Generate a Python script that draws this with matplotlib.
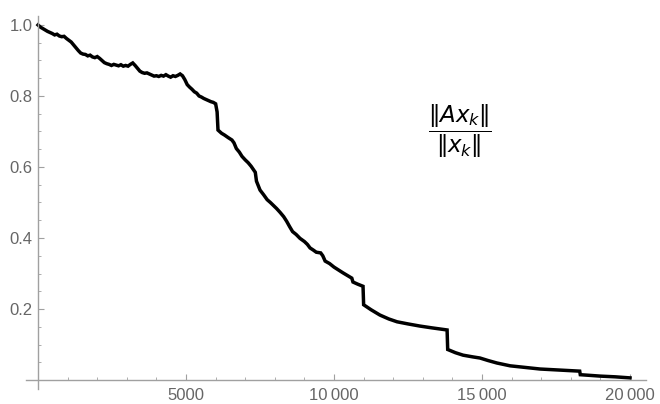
import matplotlib
matplotlib.use("Agg")
import matplotlib.pyplot as plt
from matplotlib.ticker import FixedLocator, MultipleLocator

# Data (hand-read, including visible jitter)
iters = [0, 80, 160, 240, 320, 400, 480, 560, 640, 720, 800, 880, 960, 1040, 1120,
         1200, 1280, 1360, 1440, 1520, 1600, 1680, 1760, 1840, 1920, 2000, 2080, 2160,
         2240, 2320, 2400, 2480, 2560, 2640, 2720, 2800, 2880, 2960, 3040, 3120, 3200,
         3280, 3360, 3440, 3520, 3600, 3680, 3760, 3840, 3920, 4000, 4080, 4160, 4240,
         4320, 4400, 4480, 4560, 4640, 4720, 4800, 4880, 4960, 5040, 5120, 5200, 5280,
         5360, 5440, 5520, 5600, 5680, 5760, 5840, 5920, 6000, 6050, 6080, 6200, 6300,
         6420, 6550, 6620, 6700, 6800, 6890, 7000, 7100, 7200, 7300, 7340, 7380, 7500,
         7620, 7740, 7850, 7950, 8060, 8180, 8300, 8400, 8500, 8600, 8720, 8850, 9000,
         9100, 9190, 9300, 9400, 9550, 9620, 9700, 9850, 10000, 10150, 10300, 10420,
         10540, 10600, 10640, 10800, 10980, 11000, 11250, 11550, 11850, 12130, 12500,
         12900, 13300, 13820, 13840, 14100, 14360, 14700, 14930, 15200, 15500, 15950,
         16400, 16960, 17600, 18300, 18320, 19000, 19500, 20000]
ratio = [1.000, 0.994, 0.990, 0.986, 0.982, 0.979, 0.976, 0.972, 0.974, 0.969, 0.967,
         0.968, 0.962, 0.957, 0.952, 0.944, 0.936, 0.928, 0.921, 0.918, 0.917, 0.913,
         0.915, 0.910, 0.908, 0.911, 0.906, 0.900, 0.894, 0.891, 0.889, 0.886, 0.889,
         0.887, 0.885, 0.888, 0.884, 0.886, 0.884, 0.889, 0.893, 0.886, 0.878, 0.870,
         0.866, 0.864, 0.865, 0.862, 0.859, 0.856, 0.857, 0.855, 0.858, 0.856, 0.860,
         0.856, 0.853, 0.857, 0.855, 0.858, 0.862, 0.857, 0.846, 0.832, 0.825, 0.819,
         0.812, 0.808, 0.800, 0.797, 0.793, 0.790, 0.787, 0.784, 0.782, 0.778, 0.755,
         0.704, 0.695, 0.690, 0.683, 0.676, 0.668, 0.652, 0.642, 0.630, 0.620, 0.612,
         0.602, 0.590, 0.585, 0.560, 0.535, 0.522, 0.508, 0.500, 0.492, 0.483, 0.472,
         0.460, 0.447, 0.432, 0.418, 0.410, 0.399, 0.390, 0.382, 0.372, 0.366, 0.360,
         0.358, 0.350, 0.335, 0.328, 0.318, 0.310, 0.302, 0.296, 0.290, 0.287, 0.276,
         0.270, 0.264, 0.212, 0.198, 0.183, 0.172, 0.164, 0.158, 0.152, 0.147, 0.141,
         0.086, 0.077, 0.070, 0.065, 0.062, 0.055, 0.048, 0.040, 0.036, 0.031, 0.028,
         0.025, 0.015, 0.011, 0.009, 0.006]

xticks = [5000, 10000, 15000, 20000]
xticklabels = ["5000", "10\u2009000", "15\u2009000", "20\u2009000"]
yticks = [0.2, 0.4, 0.6, 0.8, 1.0]
yticklabels = ["0.2", "0.4", "0.6", "0.8", "1.0"]

plt.rcParams['font.family'] = ['Liberation Sans', 'DejaVu Sans']
plt.rcParams['mathtext.fontset'] = 'dejavusans'

fig = plt.figure(figsize=(6.6, 4.04), dpi=100)
ax = fig.add_axes([25.6 / 660, (404 - 388.9) / 404, (646.3 - 25.6) / 660, (388.9 - 16.1) / 404])
ax.set_xlim(-420, 20550)
ax.set_ylim(-0.025, 1.025)

ax.plot(iters, ratio, color='black', lw=2.5, solid_joinstyle='miter')

gray = '#a0a0a0'
for s in ['top', 'right']:
    ax.spines[s].set_visible(False)
ax.spines['left'].set_position(('data', 0))
ax.spines['bottom'].set_position(('data', 0))
for s in ['left', 'bottom']:
    ax.spines[s].set_color(gray)
    ax.spines[s].set_linewidth(1.0)

ax.xaxis.set_major_locator(FixedLocator(xticks))
ax.set_xticklabels(xticklabels)
ax.xaxis.set_minor_locator(MultipleLocator(1000))
ax.yaxis.set_major_locator(FixedLocator(yticks))
ax.set_yticklabels(yticklabels)
ax.yaxis.set_minor_locator(MultipleLocator(0.05))

ax.tick_params(which='major', direction='in', length=4, width=0.8, color=gray,
               labelcolor='#666666', labelsize=12)
ax.tick_params(which='minor', direction='in', length=2.5, width=0.6, color=gray)
ax.tick_params(axis='x', which='major', pad=6)
ax.tick_params(axis='y', which='major', pad=4)

ax.text(14250, 0.70, r'$\dfrac{\Vert Ax_k\Vert}{\Vert x_k\Vert}$', fontsize=16.5,
        ha='center', va='center', color='black')

fig.savefig('out.png', dpi=100)
